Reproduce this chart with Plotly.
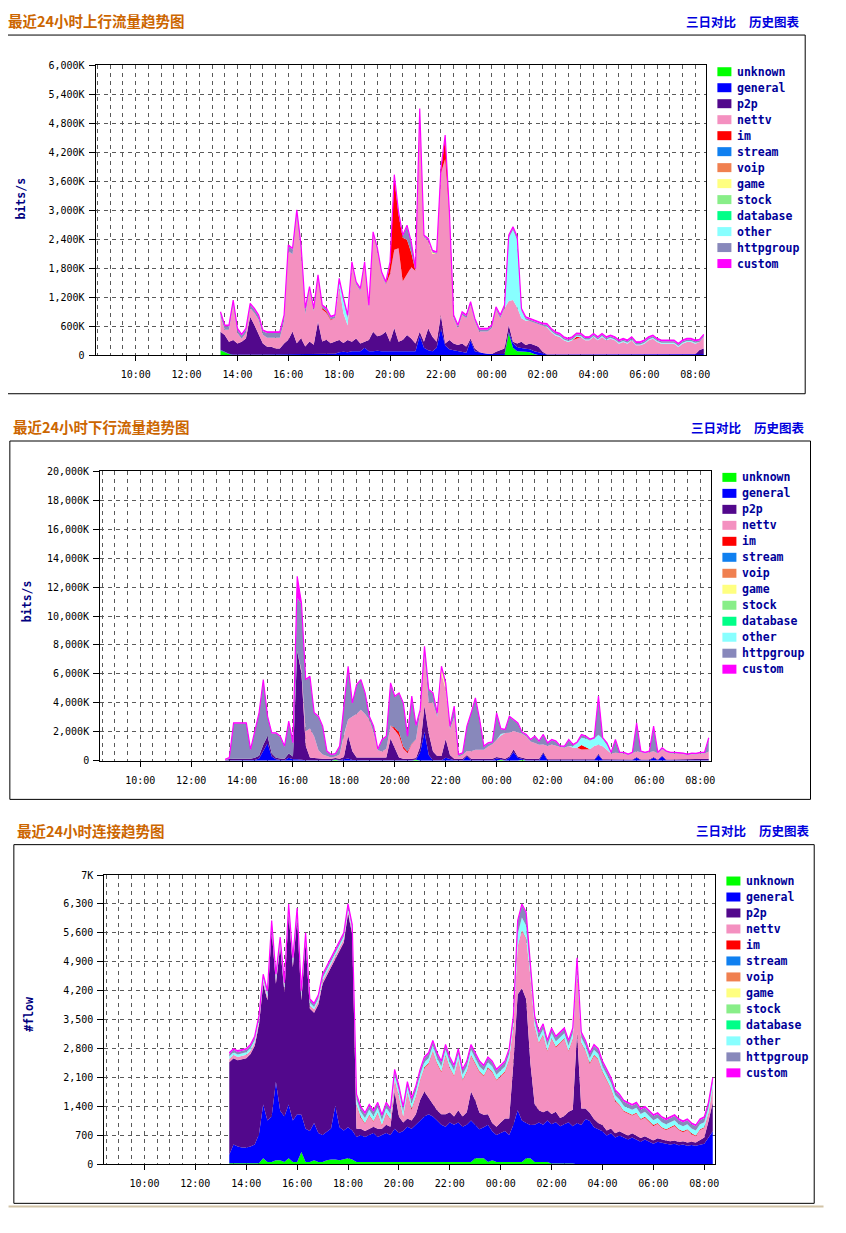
import plotly.graph_objects as go
from datetime import datetime, timedelta

# ---------------- time axis (10-minute samples, 13:20 -> 08:20 next day) ----------------
N = 115
START = datetime(2012, 5, 1, 13, 20)
TIMES = [START + timedelta(minutes=10 * i) for i in range(N)]
X_RANGE = ["2012-05-01 08:25:30", "2012-05-02 08:25:30"]
X_TICK0 = "2012-05-01 10:00"


def sparse(points):
    """readings that are zero except at the listed sample indexes"""
    return [points.get(i, 0) for i in range(N)]


CATEGORIES = ["unknown", "general", "p2p", "nettv", "im", "stream", "voip", "game",
              "stock", "database", "other", "httpgroup", "custom"]
COLORS = {"unknown": "#00ff00", "general": "#0000ff", "p2p": "#52088c", "nettv": "#f490c0",
          "im": "#ff0000", "stream": "#1080f0", "voip": "#f08050", "game": "#ffff80",
          "stock": "#88ee88", "database": "#00ff88", "other": "#88ffff",
          "httpgroup": "#8888bb", "custom": "#ff00ff"}

# ---------------- chart 1: upstream traffic (K bits/s) ----------------
up_unknown = sparse({0: 100, 1: 60, 2: 20, 68: 450, 69: 150, 70: 80, 71: 80, 72: 70, 73: 60, 74: 20})
up_general = [10, 10, 10, 10, 10, 10, 10, 10, 10, 10,
              10, 10, 10, 10, 10, 10, 25, 25, 25, 25,
              25, 25, 25, 25, 25, 25, 25, 25, 60, 70,
              60, 80, 80, 80, 150, 80, 80, 90, 80, 80,
              80, 90, 80, 80, 80, 80, 80, 400, 150, 100,
              80, 150, 550, 200, 120, 100, 80, 60, 50, 300,
              80, 60, 40, 30, 20, 20, 20, 20, 30, 100,
              80, 60, 60, 60, 60, 60, 40, 10, 10, 10,
              10, 10, 10, 10, 10, 10, 10, 10, 10, 10,
              10, 10, 10, 10, 10, 10, 10, 10, 10, 10,
              10, 10, 10, 10, 10, 10, 10, 10, 10, 10,
              10, 10, 10, 20, 20]
up_p2p = [373, 344, 246, 300, 231, 266, 335, 783, 611, 404,
          231, 162, 162, 128, 128, 231, 290, 463, 221, 325,
          152, 256, 187, 670, 256, 290, 221, 256, 250, 181,
          250, 196, 265, 161, 126, 230, 403, 300, 334, 403,
          196, 472, 196, 230, 334, 265, 161, 83, 126, 452,
          300, 126, 278, 41, 190, 141, 127, 181, 122, 45,
          58, 9, 0, 0, 0, 49, 84, 118, 141, 26,
          81, 136, 77, 121, 127, 112, 29, 5, 5, 5,
          5, 5, 5, 5, 5, 5, 5, 5, 5, 5,
          5, 5, 5, 5, 5, 5, 5, 5, 5, 5,
          5, 5, 5, 5, 5, 5, 5, 5, 5, 5,
          5, 5, 5, 84, 118]
up_nettv = [319, 112, 250, 734, 216, 60, 112, 182, 250, 319,
            182, 186, 186, 220, 220, 462, 1842, 1600, 2636, 1807,
            669, 1074, 694, 901, 664, 561, 473, 487, 1112, 617,
            303, 1601, 1118, 1084, 1601, 670, 2015, 1773, 1256, 980,
            1401, 1619, 1936, 1219, 1276, 1476, 1498, 4578, 2163, 1818,
            1714, 1818, 2941, 3818, 2612, 522, 349, 591, 591, 694,
            556, 418, 447, 457, 536, 866, 659, 832, 498, 866,
            744, 485, 502, 468, 467, 468, 536, 561, 462, 393,
            359, 290, 255, 290, 324, 359, 290, 290, 359, 290,
            359, 290, 324, 290, 221, 255, 221, 290, 186, 186,
            221, 290, 324, 255, 221, 221, 221, 221, 152, 221,
            255, 255, 221, 166, 236]
up_im = sparse({24: 30, 25: 30, 26: 20, 40: 200, 41: 1500, 42: 700, 43: 900, 44: 700,
                45: 300, 52: 50, 53: 450, 84: 40})
up_stream = sparse({})
up_voip = sparse({})
up_game = sparse({50: 30})
up_stock = sparse({})
up_database = sparse({})
up_other = [0, 0, 0, 0, 0, 0, 0, 0, 0, 0,
            0, 0, 0, 0, 0, 0, 0, 0, 0, 0,
            0, 0, 0, 0, 0, 0, 0, 0, 100, 250,
            150, 0, 0, 0, 0, 0, 0, 0, 0, 0,
            0, 0, 0, 0, 0, 0, 0, 0, 0, 0,
            0, 0, 0, 0, 0, 0, 0, 0, 0, 0,
            0, 0, 0, 0, 0, 0, 0, 0, 1300, 1450,
            1400, 150, 30, 0, 0, 0, 0, 20, 20, 20,
            20, 20, 20, 20, 20, 20, 20, 20, 20, 20,
            20, 20, 20, 20, 20, 20, 20, 20, 20, 20,
            20, 20, 20, 20, 20, 20, 20, 20, 20, 20,
            20, 20, 20, 0, 0]
up_httpgroup = [70, 70, 70, 70, 70, 70, 70, 70, 70, 70,
                70, 100, 100, 100, 100, 100, 100, 100, 100, 100,
                100, 40, 40, 40, 40, 40, 40, 40, 40, 40,
                40, 30, 30, 30, 30, 30, 30, 30, 30, 30,
                30, 30, 30, 30, 276, 200, 30, 20, 20, 20,
                20, 20, 20, 20, 20, 40, 40, 40, 40, 40,
                40, 40, 40, 40, 40, 40, 40, 40, 40, 40,
                40, 30, 30, 30, 30, 30, 30, 30, 30, 30,
                30, 30, 30, 30, 30, 30, 30, 30, 30, 30,
                30, 30, 30, 30, 30, 30, 30, 30, 30, 30,
                30, 30, 30, 30, 30, 30, 30, 30, 30, 30,
                30, 30, 30, 30, 30]
up_custom = [25, 25, 25, 25, 25, 25, 25, 25, 25, 25,
             25, 25, 25, 25, 25, 25, 25, 25, 25, 25,
             25, 25, 25, 25, 25, 25, 25, 25, 25, 25,
             25, 25, 25, 25, 25, 25, 25, 25, 25, 25,
             25, 25, 25, 25, 25, 25, 25, 25, 25, 25,
             25, 25, 25, 25, 25, 25, 25, 25, 25, 25,
             25, 25, 25, 25, 25, 25, 25, 25, 25, 25,
             25, 25, 25, 25, 25, 25, 25, 25, 25, 25,
             25, 25, 25, 25, 25, 25, 25, 25, 25, 25,
             25, 25, 25, 25, 25, 25, 25, 25, 25, 25,
             25, 25, 25, 25, 25, 25, 25, 25, 25, 25,
             25, 25, 25, 25, 25]

# ---------------- chart 2: downstream traffic (K bits/s) ----------------
dn_unknown = sparse({26: 60, 45: 60, 65: 60, 70: 60})
dn_general = [10, 20, 30, 30, 30, 30, 30, 50, 150, 700,
              1200, 300, 100, 50, 30, 200, 100, 100, 50, 30,
              30, 30, 30, 30, 30, 30, 30, 30, 100, 150,
              50, 30, 30, 30, 30, 30, 30, 30, 30, 30,
              30, 30, 30, 30, 30, 30, 600, 2000, 400, 30,
              30, 30, 200, 100, 30, 30, 30, 300, 30, 30,
              30, 30, 30, 30, 150, 30, 30, 200, 600, 200,
              30, 30, 30, 30, 30, 500, 30, 30, 30, 30,
              30, 30, 30, 30, 30, 30, 30, 30, 400, 30,
              30, 30, 30, 30, 30, 30, 30, 200, 30, 30,
              30, 200, 30, 300, 30, 30, 30, 30, 30, 30,
              30, 30, 30, 30, 30]
dn_p2p = [30, 100, 100, 100, 100, 100, 100, 150, 200, 400,
          500, 200, 100, 100, 100, 300, 200, 7500, 6000, 1000,
          200, 150, 100, 100, 100, 100, 100, 100, 150, 1600,
          600, 200, 200, 200, 200, 200, 200, 200, 200, 1500,
          800, 200, 100, 100, 100, 100, 400, 1800, 1500, 600,
          300, 300, 1300, 300, 100, 100, 100, 100, 100, 100,
          100, 100, 100, 100, 100, 100, 100, 100, 200, 100,
          100, 100, 100, 100, 100, 100, 70, 70, 70, 70,
          70, 70, 70, 70, 70, 70, 70, 70, 70, 70,
          70, 70, 70, 50, 50, 50, 50, 50, 50, 50,
          50, 50, 50, 50, 50, 50, 50, 50, 50, 50,
          50, 50, 50, 50, 100]
dn_nettv = [0, 0, 0, 0, 0, 0, 0, 0, 0, 0,
            0, 0, 0, 0, 0, 0, 0, 0, 200, 1000,
            2000, 1500, 600, 300, 200, 100, 100, 300, 1500, 1100,
            2400, 3000, 3300, 3000, 2600, 1700, 500, 400, 600, 900,
            1300, 1500, 700, 400, 1000, 1300, 2400, 3500, 2100, 3400,
            2700, 5700, 3400, 1760, 2880, 120, 287, 267, 517, 630,
            630, 630, 860, 1000, 1200, 1550, 1780, 1630, 1250, 1630,
            1670, 1550, 1200, 1090, 977, 527, 912, 1027, 912, 850,
            800, 912, 800, 800, 680, 680, 700, 912, 627, 900,
            680, 400, 450, 420, 420, 300, 420, 400, 500, 420,
            500, 400, 420, 450, 500, 420, 420, 420, 370, 300,
            370, 350, 420, 420, 500]
dn_im = sparse({40: 150, 41: 250, 42: 150, 43: 100, 44: 50, 84: 300, 85: 150})
dn_stream = sparse({})
dn_voip = sparse({})
dn_game = sparse({51: 400, 52: 200})
dn_stock = sparse({})
dn_database = sparse({})
dn_other = sparse({28: 60, 65: 100, 82: 100, 83: 300, 84: 500, 85: 600, 86: 600, 87: 500,
                   88: 700, 89: 500, 90: 300})
dn_httpgroup = [10, 40, 2442, 2442, 2488, 2442, 602, 1912, 2912, 4462,
                1332, 1382, 1682, 1502, 832, 2187, 892, 3642, 4600, 3532,
                3562, 1582, 2300, 1912, 287, 157, 157, 532, 1972, 3632,
                902, 1987, 2032, 1412, 202, 412, 30, 792, 822, 2902,
                2132, 2662, 2972, 1022, 3232, 912, 92, 562, 872, 612,
                232, 52, 232, 182, 712, 137, 85, 1675, 2615, 3537,
                2042, 202, 202, 120, 1812, 332, 202, 1102, 752, 642,
                82, 87, 92, 432, 200, 640, 180, 295, 295, 30,
                62, 410, 77, 50, 187, 122, 50, 30, 2615, 50,
                112, 30, 872, 30, 30, 30, 30, 1922, 37, 30,
                37, 1692, 30, 47, 37, 30, 30, 30, 30, 30,
                30, 30, 30, 30, 907]
dn_custom = [50, 50, 50, 50, 50, 50, 50, 50, 50, 50,
             50, 50, 50, 50, 50, 50, 50, 1500, 50, 50,
             50, 50, 50, 50, 50, 50, 50, 50, 50, 50,
             50, 50, 50, 50, 50, 50, 50, 50, 50, 50,
             50, 50, 50, 50, 50, 50, 50, 50, 50, 50,
             50, 50, 50, 50, 50, 50, 50, 50, 50, 50,
             50, 50, 50, 50, 50, 50, 50, 50, 50, 50,
             50, 50, 50, 50, 50, 50, 50, 50, 50, 50,
             50, 50, 50, 50, 50, 50, 50, 50, 50, 50,
             50, 50, 50, 50, 50, 50, 50, 50, 50, 50,
             50, 50, 50, 50, 50, 50, 50, 50, 50, 50,
             50, 50, 50, 50, 50]

# ---------------- chart 3: connections (#flow) ----------------
cn_unknown = [30, 30, 30, 30, 30, 30, 30, 30, 150, 60,
              60, 100, 100, 60, 150, 60, 60, 300, 60, 60,
              100, 60, 60, 100, 120, 120, 100, 120, 150, 120,
              60, 60, 60, 60, 60, 60, 60, 60, 60, 60,
              60, 60, 60, 60, 60, 60, 60, 60, 60, 60,
              60, 60, 60, 60, 60, 60, 60, 60, 150, 150,
              150, 60, 100, 60, 60, 60, 60, 60, 60, 60,
              150, 150, 60, 60, 60, 60, 20, 20, 20, 20,
              20, 20, 0, 0, 0, 0, 0, 0, 0, 0,
              0, 0, 0, 0, 0, 0, 0, 0, 0, 0,
              0, 0, 0, 0, 0, 0, 0, 0, 0, 0,
              0, 0, 0, 0, 0]
cn_general = [200, 450, 400, 380, 380, 400, 450, 700, 1300, 1000,
              1100, 1900, 1200, 1100, 1300, 1000, 1150, 900, 800, 750,
              900, 700, 650, 700, 750, 1300, 800, 700, 750, 700,
              600, 650, 600, 650, 700, 600, 650, 700, 650, 800,
              700, 750, 850, 800, 900, 1000, 1100, 1150, 1100, 1000,
              900, 850, 950, 900, 950, 850, 900, 1000, 800, 700,
              750, 900, 700, 650, 700, 750, 650, 900, 1250, 1000,
              850, 800, 900, 950, 900, 1000, 950, 1000, 900, 950,
              1000, 900, 1000, 950, 1100, 1050, 900, 850, 800, 700,
              750, 650, 700, 650, 600, 650, 600, 550, 600, 550,
              500, 550, 520, 500, 480, 500, 460, 480, 450, 470,
              450, 480, 500, 650, 800]
cn_p2p = [2240, 2090, 2090, 2140, 2160, 2240, 2390, 2640, 2920, 2910,
          4510, 2370, 3970, 3010, 4620, 3710, 4760, 2770, 4510, 2960,
          2670, 3110, 3660, 3770, 3900, 3550, 4270, 4550, 5170, 4750,
          200, 150, 150, 150, 150, 200, 150, 200, 200, 900,
          400, 200, 200, 200, 250, 500, 600, 400, 300, 250,
          250, 300, 250, 200, 300, 250, 300, 700, 600, 400,
          300, 250, 200, 200, 250, 300, 400, 1500, 2800, 3200,
          3000, 1500, 500, 300, 300, 250, 250, 250, 200, 200,
          250, 400, 2200, 400, 250, 200, 200, 150, 150, 120,
          120, 100, 100, 100, 100, 100, 90, 90, 80, 80,
          80, 80, 80, 80, 80, 80, 80, 80, 80, 80,
          80, 100, 150, 400, 700]
cn_nettv = [80, 80, 80, 80, 80, 80, 80, 80, 80, 80,
            80, 80, 80, 80, 80, 80, 80, 80, 80, 80,
            80, 80, 80, 80, 80, 80, 80, 80, 80, 80,
            570, 270, 170, 320, 120, 370, 70, 270, 170, 270,
            470, 120, 620, 270, 420, 470, 570, 820, 1270, 1120,
            1020, 1420, 1070, 970, 1220, 870, 970, 870, 880, 980,
            930, 1120, 1230, 1120, 1120, 1120, 1420, 870, 1140, 1390,
            1450, 2080, 1870, 1620, 1870, 1420, 1810, 1560, 1810, 1860,
            1460, 1710, 1530, 1580, 1380, 1180, 1530, 1530, 1280, 1210,
            960, 780, 630, 530, 530, 430, 540, 440, 450, 400,
            350, 350, 280, 250, 320, 350, 290, 220, 300, 180,
            150, 250, 230, 180, 330]
cn_im = [0, 0, 0, 0, 0, 0, 0, 0, 0, 0,
         0, 0, 0, 0, 0, 0, 0, 0, 0, 0,
         0, 0, 0, 0, 0, 0, 0, 0, 0, 0,
         20, 20, 20, 20, 20, 20, 20, 20, 20, 20,
         20, 20, 20, 20, 20, 20, 20, 20, 20, 20,
         20, 20, 20, 20, 20, 20, 20, 20, 20, 20,
         20, 20, 20, 20, 20, 20, 20, 20, 20, 20,
         20, 20, 20, 20, 20, 20, 20, 20, 20, 20,
         20, 20, 20, 20, 20, 20, 20, 20, 20, 20,
         20, 20, 20, 20, 20, 20, 20, 20, 20, 20,
         20, 20, 20, 20, 20, 20, 20, 20, 20, 20,
         20, 20, 20, 20, 20]
cn_stream = sparse({})
cn_voip = sparse({})
cn_game = sparse({})
cn_stock = sparse({})
cn_database = sparse({})
cn_other = [60, 60, 60, 60, 60, 60, 60, 60, 60, 60,
            60, 60, 60, 60, 60, 60, 60, 60, 60, 60,
            60, 60, 60, 60, 60, 60, 60, 60, 60, 60,
            120, 120, 120, 120, 120, 120, 120, 120, 120, 120,
            120, 120, 120, 120, 120, 120, 120, 120, 120, 120,
            120, 120, 120, 120, 120, 120, 120, 120, 120, 120,
            120, 120, 120, 120, 120, 120, 120, 120, 300, 300,
            300, 120, 120, 120, 120, 120, 120, 120, 120, 120,
            120, 120, 120, 120, 120, 120, 120, 120, 120, 120,
            120, 120, 120, 120, 120, 120, 120, 120, 120, 120,
            120, 120, 120, 120, 120, 120, 120, 120, 120, 120,
            120, 120, 120, 120, 120]
cn_httpgroup = [60, 60, 60, 60, 60, 60, 60, 60, 60, 60,
                60, 60, 60, 60, 60, 60, 60, 60, 60, 60,
                60, 60, 60, 60, 60, 60, 60, 60, 60, 60,
                100, 100, 100, 100, 100, 100, 100, 100, 100, 100,
                100, 100, 100, 100, 100, 100, 100, 100, 100, 100,
                100, 100, 100, 100, 100, 100, 100, 100, 100, 100,
                100, 100, 100, 100, 100, 100, 100, 100, 300, 300,
                300, 100, 100, 100, 100, 100, 100, 100, 100, 100,
                100, 100, 100, 100, 100, 100, 100, 100, 100, 100,
                100, 100, 100, 100, 100, 100, 100, 100, 100, 100,
                100, 100, 100, 100, 100, 100, 100, 100, 100, 100,
                100, 100, 100, 100, 100]
cn_custom = [30, 30, 30, 30, 30, 30, 30, 30, 30, 30,
             30, 30, 30, 30, 30, 30, 30, 30, 30, 30,
             30, 30, 30, 30, 30, 30, 30, 30, 30, 30,
             30, 30, 30, 30, 30, 30, 30, 30, 30, 30,
             30, 30, 30, 30, 30, 30, 30, 30, 30, 30,
             30, 30, 30, 30, 30, 30, 30, 30, 30, 30,
             30, 30, 30, 30, 30, 30, 30, 30, 30, 30,
             30, 30, 30, 30, 30, 30, 30, 30, 30, 30,
             30, 30, 30, 30, 30, 30, 30, 30, 30, 30,
             30, 30, 30, 30, 30, 30, 30, 30, 30, 30,
             30, 30, 30, 30, 30, 30, 30, 30, 30, 30,
             30, 30, 30, 30, 30]

UP = [up_unknown, up_general, up_p2p, up_nettv, up_im, up_stream, up_voip, up_game,
      up_stock, up_database, up_other, up_httpgroup, up_custom]
DOWN = [dn_unknown, dn_general, dn_p2p, dn_nettv, dn_im, dn_stream, dn_voip, dn_game,
        dn_stock, dn_database, dn_other, dn_httpgroup, dn_custom]
CONN = [cn_unknown, cn_general, cn_p2p, cn_nettv, cn_im, cn_stream, cn_voip, cn_game,
        cn_stock, cn_database, cn_other, cn_httpgroup, cn_custom]
for group in (UP, DOWN, CONN):
    for s in group:
        assert len(s) == N, len(s)

# tick labels
UP_TICKS = [0, 600, 1200, 1800, 2400, 3000, 3600, 4200, 4800, 5400, 6000]
UP_LABELS = ["0", "600K", "1,200K", "1,800K", "2,400K", "3,000K", "3,600K", "4,200K",
             "4,800K", "5,400K", "6,000K"]
DN_TICKS = [0, 2000, 4000, 6000, 8000, 10000, 12000, 14000, 16000, 18000, 20000]
DN_LABELS = ["0", "2,000K", "4,000K", "6,000K", "8,000K", "10,000K", "12,000K", "14,000K",
             "16,000K", "18,000K", "20,000K"]
CN_TICKS = [0, 700, 1400, 2100, 2800, 3500, 4200, 4900, 5600, 6300, 7000]
CN_LABELS = ["0", "700", "1,400", "2,100", "2,800", "3,500", "4,200", "4,900", "5,600",
             "6,300", "7K"]

TITLES = ["最近24小时上行流量趋势图", "最近24小时下行流量趋势图", "最近24小时连接趋势图"]
LINK1, LINK2 = "三日对比", "历史图表"
YTITLES = ["bits/s", "bits/s", "#flow"]

# ---------------- layout geometry (target pixels) ----------------
PAGE_W, PAGE_H = 846, 1233
BODY = 8                      # default page body margin around the figure
W, H = PAGE_W - 2 * BODY, PAGE_H - 2 * BODY
# small empirical correction between page pixels and the captured picture
SX, OX, SY, OY = 0.994, 1.5, 0.991, 6.0
PANELS = [
    dict(plot=(97, 65.3, 706.7, 355.3), box=(6.3, 35, 805.7, 394), title=(7.5, 20.5),
         links=(685, 748, 21.5), leg=(718, 736, 71.7), ylab=(22, 199)),
    dict(plot=(101.5, 471.7, 711.7, 761.3), box=(11.3, 441.3, 811, 800), title=(12, 426.7),
         links=(690, 753, 427.5), leg=(723, 741, 477.7), ylab=(28, 602)),
    dict(plot=(105.7, 875.7, 715.7, 1165.3), box=(15.3, 845.3, 814.7, 1204.3), title=(16, 831),
         links=(695, 758, 831.5), leg=(727, 745, 881.7), ylab=(31, 1015)),
]


def fx(x):
    return ((x - OX) / SX - BODY) / W


def fy(y):
    return 1 - ((y - OY) / SY - BODY) / H


fig = go.Figure()
DATA = [UP, DOWN, CONN]
YR = [(UP_TICKS, UP_LABELS), (DN_TICKS, DN_LABELS), (CN_TICKS, CN_LABELS)]
GRID = "#5a5a5a"
MONO = "DejaVu Sans Mono"
CJK = "Noto Sans CJK SC"
shapes, annotations = [], []

for k in range(3):
    sfx = "" if k == 0 else str(k + 1)
    for name, vals in zip(CATEGORIES, DATA[k]):
        is_custom = name == "custom"
        fig.add_trace(go.Scatter(
            x=TIMES, y=vals, name=name, mode="lines", stackgroup="s%d" % k,
            xaxis="x" + sfx, yaxis="y" + sfx, showlegend=False,
            line=dict(width=1.2 if is_custom else 0, color=COLORS[name]),
            fillcolor=COLORS[name], hoverinfo="skip"))
    P = PANELS[k]
    x0, y0, x1, y1 = P["plot"]
    ticks, labels = YR[k]
    fig.layout["xaxis" + sfx] = dict(
        domain=[fx(x0), fx(x1)], anchor="y" + sfx, type="date", range=X_RANGE,
        tick0=X_TICK0, dtick=7200000, tickformat="%H:%M", ticks="outside", ticklen=5,
        tickcolor="black", showline=True, mirror=True, linecolor="black", linewidth=1,
        showgrid=True, gridcolor=GRID, griddash="4px,4px", gridwidth=1,
        tickfont=dict(family=MONO, size=10, color="black"), ticklabelstandoff=5,
        minor=dict(dtick=1800000, tick0=X_TICK0, showgrid=True, gridcolor=GRID,
                   griddash="4px,4px", gridwidth=1, ticks=""),
        zeroline=False, fixedrange=True)
    fig.layout["yaxis" + sfx] = dict(
        domain=[fy(y1), fy(y0)], anchor="x" + sfx, range=[0, ticks[-1]],
        tickvals=ticks, ticktext=labels, ticks="outside", ticklen=6, tickcolor="black",
        showline=True, mirror=True, linecolor="black", linewidth=1,
        showgrid=True, gridcolor=GRID, griddash="4px,4px", gridwidth=1,
        tickfont=dict(family=MONO, size=10, color="black"), ticklabelstandoff=2,
        zeroline=False, fixedrange=True)

    bx0, by0, bx1, by1 = P["box"]
    shapes.append(dict(type="rect", xref="paper", yref="paper", x0=fx(bx0), x1=fx(bx1),
                       y0=fy(by1), y1=fy(by0), line=dict(color="black", width=1)))
    tx, ty = P["title"]
    annotations.append(dict(text=TITLES[k], x=fx(tx), y=fy(ty), xref="paper", yref="paper",
                            xanchor="left", yanchor="middle", showarrow=False,
                            font=dict(family=CJK, size=14.5, color="#cc6600", weight="bold")))
    lx1, lx2, ly = P["links"]
    for lx, txt in ((lx1, LINK1), (lx2, LINK2)):
        annotations.append(dict(text=txt, x=fx(lx), y=fy(ly), xref="paper", yref="paper",
                                xanchor="left", yanchor="middle", showarrow=False,
                                font=dict(family=CJK, size=12.5, color="#0000dd", weight="bold")))
    sqx, txx, ry = P["leg"]
    for j, name in enumerate(CATEGORIES):
        cy = ry + 16 * j
        shapes.append(dict(type="rect", xref="paper", yref="paper", x0=fx(sqx), x1=fx(sqx + 14),
                           y0=fy(cy + 4.5), y1=fy(cy - 4.5), fillcolor=COLORS[name],
                           line=dict(width=0)))
        annotations.append(dict(text=name, x=fx(txx), y=fy(cy), xref="paper", yref="paper",
                                xanchor="left", yanchor="middle", showarrow=False,
                                font=dict(family=MONO, size=11.5, color="#000099", weight="bold")))
    yx, yy = P["ylab"]
    annotations.append(dict(text=YTITLES[k], x=fx(yx), y=fy(yy), xref="paper", yref="paper",
                            xanchor="center", yanchor="middle", showarrow=False, textangle=-90,
                            font=dict(family=MONO, size=11.5, color="#000080", weight="bold")))

# bottom separator line
shapes.append(dict(type="line", xref="paper", yref="paper", x0=fx(10), x1=fx(824),
                   y0=fy(1207.5), y1=fy(1207.5), line=dict(color="#d2c3a6", width=2)))

fig.update_layout(width=W, height=H, autosize=False, margin=dict(l=0, r=0, t=0, b=0),
                  paper_bgcolor="white", plot_bgcolor="white", shapes=shapes,
                  annotations=annotations, showlegend=False)
fig.write_html("out.html")
